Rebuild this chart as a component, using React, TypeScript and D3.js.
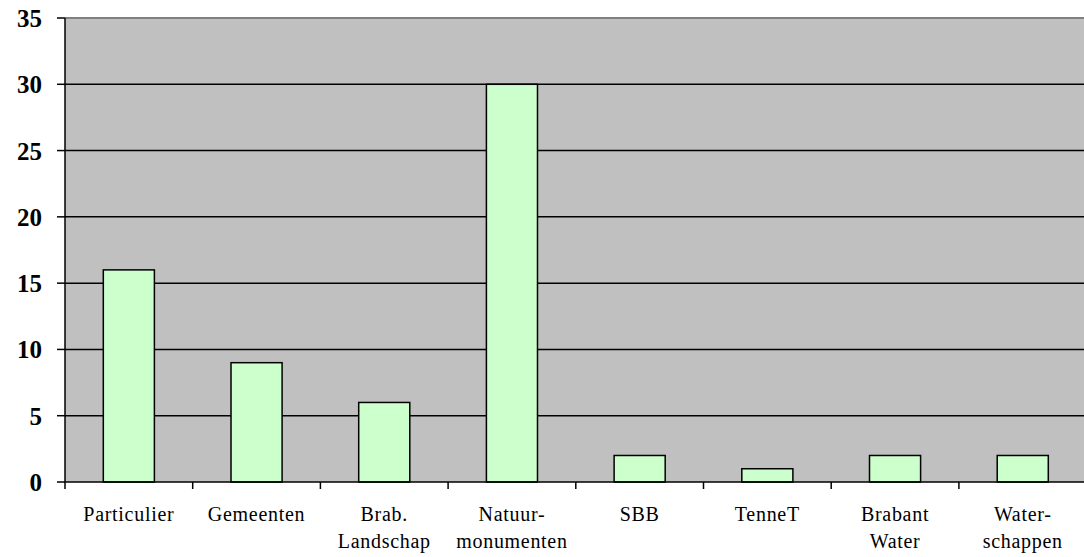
import { useEffect, useRef } from 'react';
import * as d3 from 'd3';

const categories = [
    ['Particulier'],
    ['Gemeenten'],
    ['Brab.', 'Landschap'],
    ['Natuur-', 'monumenten'],
    ['SBB'],
    ['TenneT'],
    ['Brabant', 'Water'],
    ['Water-', 'schappen'],
];
const values = [16, 9, 6, 30, 2, 1, 2, 2];
const yTicks = [0, 5, 10, 15, 20, 25, 30, 35];

export default function App() {
    const svgRef = useRef<SVGSVGElement>(null);

    useEffect(() => {
        if (!svgRef.current) return;
        const width = 1084;
        const height = 557;
        const margin = { top: 18, left: 65 };
        const zeroY = 482;
        const plotW = 8 * 127.7;
        const serif = '"Liberation Serif", "Times New Roman", Times, serif';

        const svg = d3.select(svgRef.current);
        svg.selectAll('*').remove();
        svg.attr('width', width).attr('height', height);

        const x = d3.scaleBand<number>()
            .domain(d3.range(categories.length))
            .range([margin.left, margin.left + plotW])
            .paddingInner(0.6)
            .paddingOuter(0.3);
        const y = d3.scaleLinear().domain([0, 35]).range([zeroY, margin.top]);

        // plot background
        svg.append('rect')
            .attr('x', margin.left)
            .attr('y', y(35))
            .attr('width', plotW)
            .attr('height', y(0) - y(35))
            .attr('fill', '#c0c0c0');

        // top border
        svg.append('line')
            .attr('x1', margin.left).attr('x2', margin.left + plotW)
            .attr('y1', y(35)).attr('y2', y(35))
            .attr('stroke', '#808080').attr('stroke-width', 2);

        // gridlines
        svg.selectAll('.grid')
            .data(yTicks.filter(t => t > 0 && t < 35))
            .join('line')
            .attr('class', 'grid')
            .attr('x1', margin.left).attr('x2', margin.left + plotW)
            .attr('y1', d => y(d)).attr('y2', d => y(d))
            .attr('stroke', '#000').attr('stroke-width', 1.5);

        // bars
        svg.selectAll('.bar')
            .data(values)
            .join('rect')
            .attr('class', 'bar')
            .attr('x', (_, i) => x(i)!)
            .attr('y', d => y(d))
            .attr('width', x.bandwidth())
            .attr('height', d => y(0) - y(d))
            .attr('fill', '#ccffcc')
            .attr('stroke', '#000')
            .attr('stroke-width', 1.5);

        // y axis
        svg.append('line')
            .attr('x1', margin.left).attr('x2', margin.left)
            .attr('y1', y(35)).attr('y2', y(0))
            .attr('stroke', '#000').attr('stroke-width', 1.5);
        svg.selectAll('.ytick')
            .data(yTicks)
            .join('line')
            .attr('class', 'ytick')
            .attr('x1', margin.left - 8).attr('x2', margin.left)
            .attr('y1', d => y(d)).attr('y2', d => y(d))
            .attr('stroke', '#000').attr('stroke-width', 1.5);
        svg.selectAll('.ylabel')
            .data(yTicks)
            .join('text')
            .attr('class', 'ylabel')
            .attr('x', 42)
            .attr('y', d => y(d) + 9)
            .attr('text-anchor', 'end')
            .attr('font-family', serif)
            .attr('font-weight', 'bold')
            .attr('font-size', 25)
            .text(d => d);

        // x axis
        svg.append('line')
            .attr('x1', margin.left).attr('x2', margin.left + plotW)
            .attr('y1', y(0)).attr('y2', y(0))
            .attr('stroke', '#000').attr('stroke-width', 1.5);
        const step = plotW / categories.length;
        svg.selectAll('.xtick')
            .data(d3.range(categories.length + 1))
            .join('line')
            .attr('class', 'xtick')
            .attr('x1', d => margin.left + d * step).attr('x2', d => margin.left + d * step)
            .attr('y1', y(0)).attr('y2', y(0) + 7)
            .attr('stroke', '#000').attr('stroke-width', 1.5);

        const labels = svg.selectAll('.xlabel')
            .data(categories)
            .join('text')
            .attr('class', 'xlabel')
            .attr('text-anchor', 'middle')
            .attr('font-family', serif)
            .attr('font-size', 20)
            .attr('letter-spacing', 0.7);
        labels.selectAll('tspan')
            .data((d, i) => d.map((t, j) => ({ t, j, cx: x(i)! + x.bandwidth() / 2 })))
            .join('tspan')
            .attr('x', d => d.cx)
            .attr('y', d => 521 + d.j * 26.5)
            .text(d => d.t);
    }, []);

    return (
        <div style={{ position: 'absolute', left: 0, top: 0, width: 1084, height: 557, overflow: 'hidden', background: '#fff' }}>
            <svg ref={svgRef} style={{ display: 'block' }}></svg>
        </div>
    );
}
